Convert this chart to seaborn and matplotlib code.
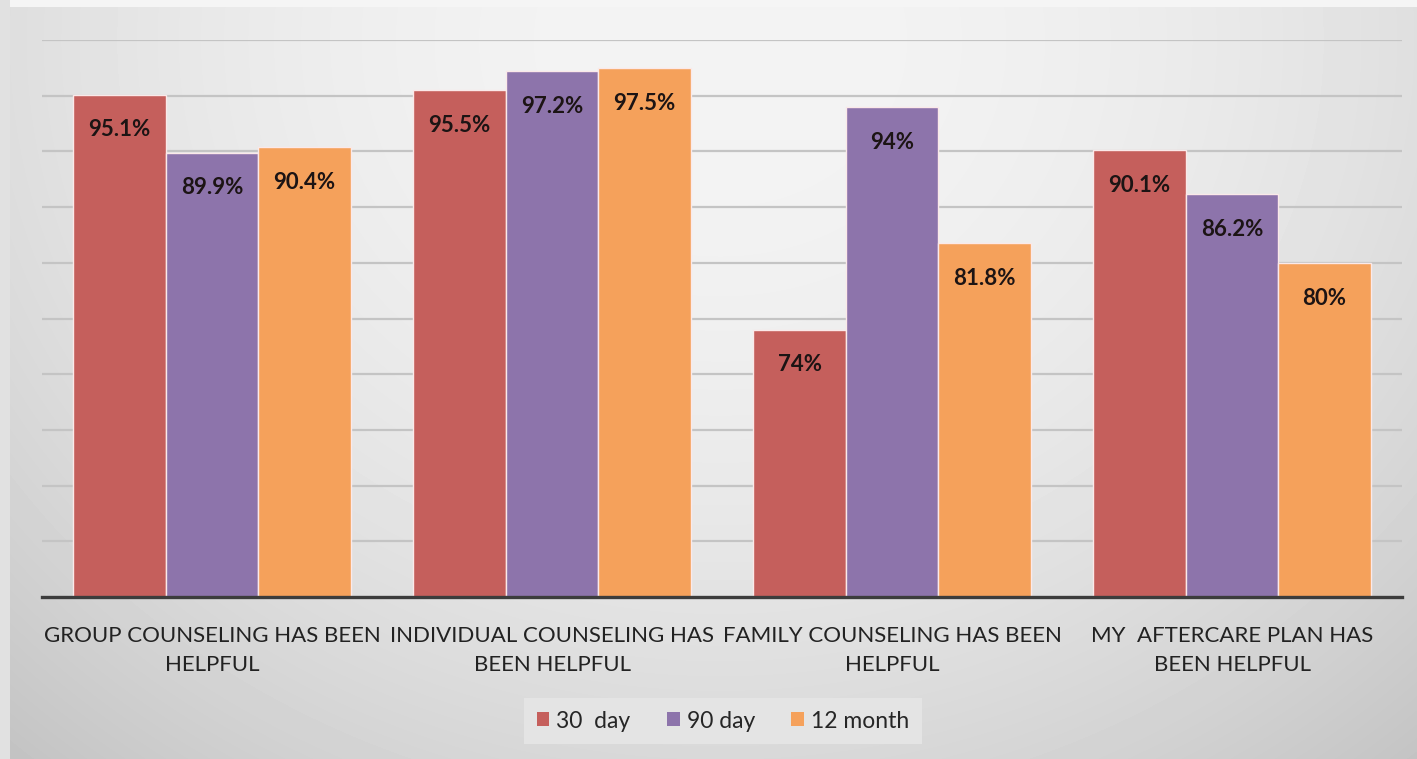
import numpy as np
import pandas as pd
import seaborn as sns
import matplotlib
matplotlib.use("Agg")
import matplotlib.pyplot as plt
from matplotlib.patches import Patch

# data
questions = ["GROUP COUNSELING HAS BEEN\nHELPFUL",
             "INDIVIDUAL COUNSELING HAS\nBEEN HELPFUL",
             "FAMILY COUNSELING HAS BEEN\nHELPFUL",
             "MY  AFTERCARE PLAN HAS\nBEEN HELPFUL"]
periods = ["30  day", "90 day", "12 month"]
day30 = [95.1, 95.5, 74.0, 90.1]
day90 = [89.9, 97.2, 94.0, 86.2]
month12 = [90.4, 97.5, 81.8, 80.0]
colors = ["#c55f5c", "#8d74ab", "#f5a15b"]

df = pd.DataFrame({
    "Question": questions * 3,
    "Period": [p for p in periods for _ in questions],
    "Value": day30 + day90 + month12,
})

sns.set_style("white")
plt.rcParams['font.family'] = ['Lato', 'DejaVu Sans']

W, H = 1417, 759
fig = plt.figure(figsize=(W / 100, H / 100), dpi=100)

# gradient background like the office chart area
bgax = fig.add_axes([0, 0, 1, 1], zorder=-5)
yy, xx = np.mgrid[0:H, 0:W]
d2 = ((xx - 720) / 950.0) ** 2 + ((yy - 40) / 850.0) ** 2
bg = 0.955 - 0.15 * np.clip(d2, 0, 1.3)
bg[:7, :] = 0.96
bg[:, :10] = 0.88
bgax.imshow(bg, cmap="gray", vmin=0, vmax=1, aspect="auto", extent=(0, W, H, 0))
bgax.axis("off")

ax = fig.add_axes([42 / W, 1 - 597 / H, (1402 - 42) / W, (597 - 40) / H])
ax.set_facecolor("none")

sns.barplot(data=df, x="Question", y="Value", hue="Period", palette=colors,
            saturation=1, width=0.815, edgecolor="#fbe9e9", linewidth=1.0,
            ax=ax, legend=False, zorder=3)

for cont in ax.containers:
    labels = [f"{b.get_height():g}%" for b in cont]
    ax.bar_label(cont, labels=labels, padding=-33, fontsize=16,
                 fontweight="bold", color="#1c1414")

ax.set_ylim(50, 100)
ax.set_xlim(-0.5, 3.5)
ax.set_yticks(np.arange(55, 101, 5))
ax.yaxis.grid(True, color="#c4c4c4", lw=1.6, zorder=0)
ax.tick_params(axis="y", left=False, labelleft=False)
for s in ["top", "right", "left"]:
    ax.spines[s].set_visible(False)
ax.spines["bottom"].set_color("#3c3c3c")
ax.spines["bottom"].set_linewidth(2.4)
ax.spines["bottom"].set_zorder(5)

ax.set_xticks([-0.5, 0.5, 1.5, 2.5, 3.5])
ax.set_xticklabels([])
ax.tick_params(axis="x", length=7, width=2.4, color="#3c3c3c", direction="out")
ax.set_xticks([0, 1, 2, 3], minor=True)
ax.set_xticklabels(questions, minor=True, fontsize=16, color="#222222",
                   linespacing=1.55)
ax.tick_params(axis="x", which="minor", length=0, pad=21)
ax.set_xlabel("")
ax.set_ylabel("")

handles = [Patch(facecolor=c, edgecolor="none") for c in colors]
leg = fig.legend(handles, periods, loc="center", bbox_to_anchor=(723 / W, 1 - 721 / H),
                 ncol=3, frameon=True, fontsize=16.5, handlelength=0.55,
                 handleheight=0.55, handletextpad=0.3, columnspacing=1.6,
                 borderpad=0.55, borderaxespad=0, fancybox=False)
leg.get_frame().set_facecolor("#e4e4e4")
leg.get_frame().set_edgecolor("none")
leg.get_frame().set_alpha(1)

fig.savefig("out.png", dpi=100)
